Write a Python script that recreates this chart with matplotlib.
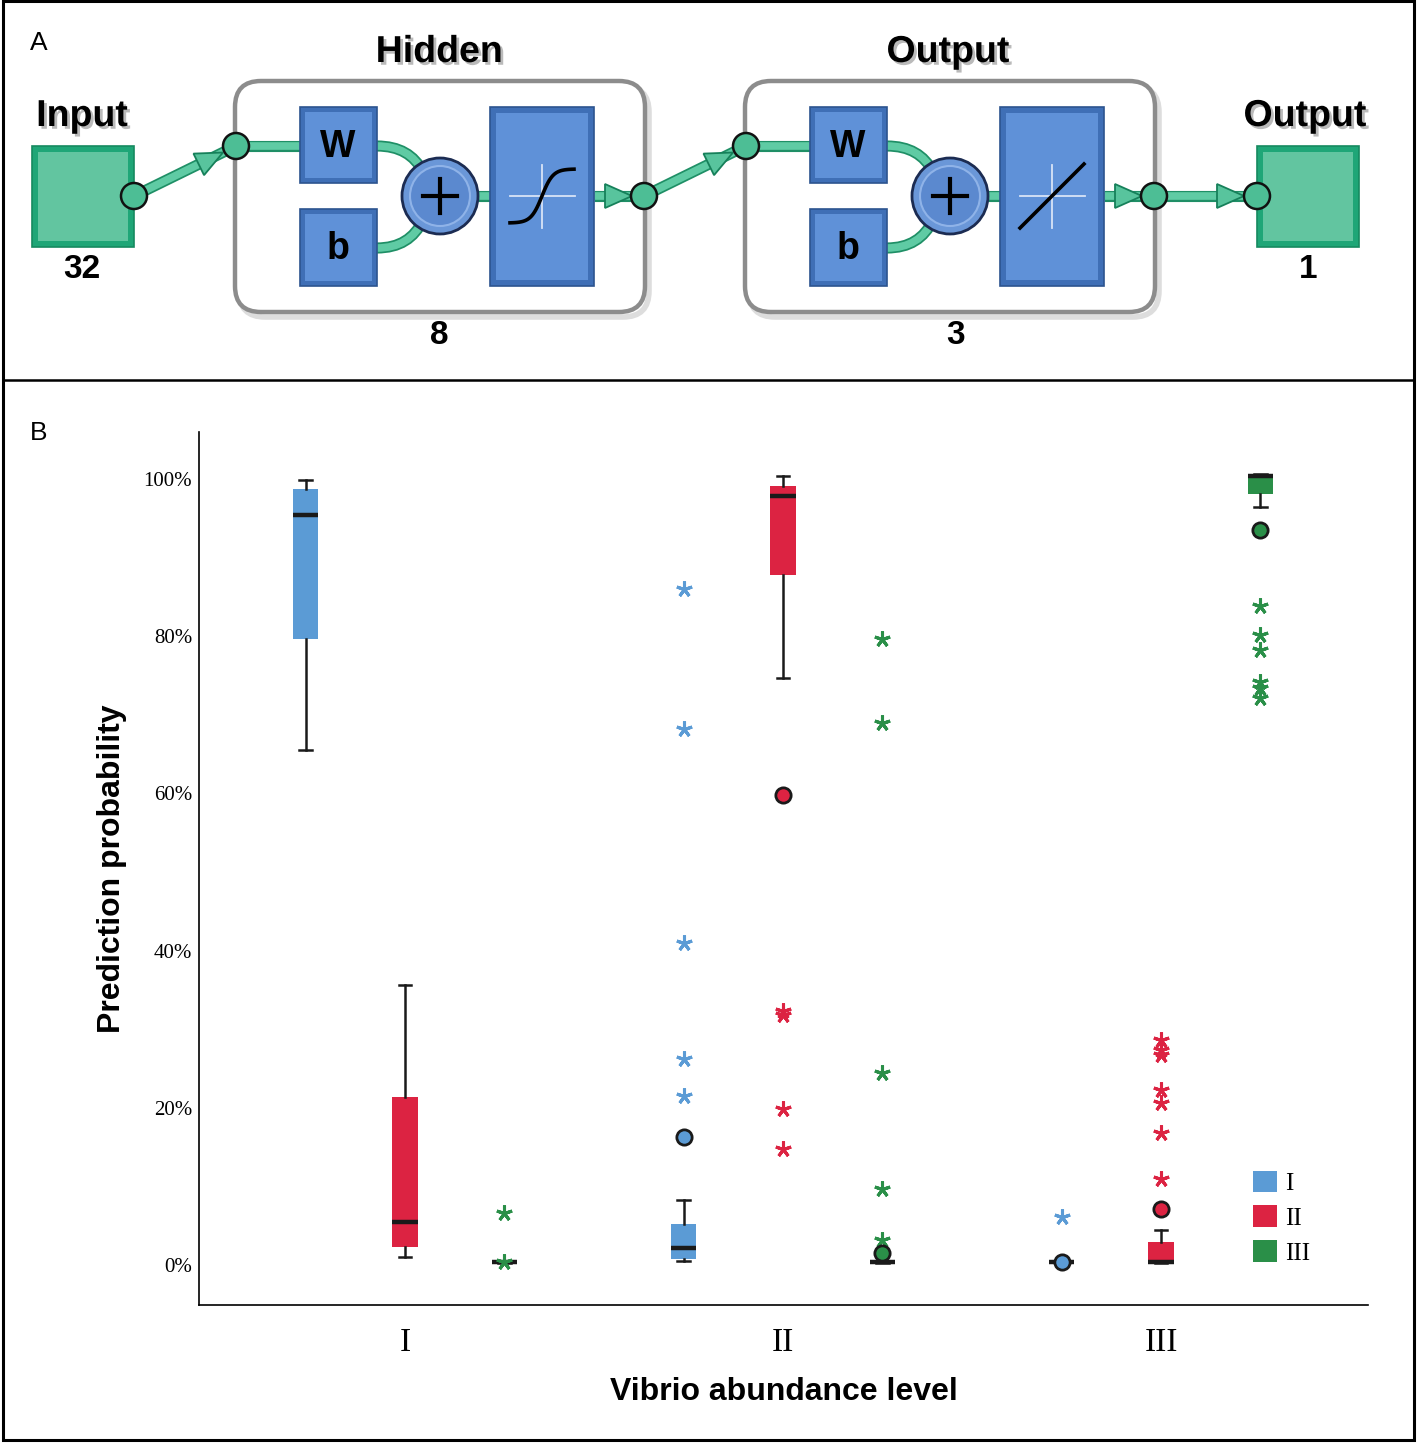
import numpy as np
import matplotlib.pyplot as plt
from matplotlib.patches import Rectangle, Circle, FancyBboxPatch, Polygon, PathPatch, Patch
from matplotlib.path import Path
import matplotlib.patheffects as pe

plt.rcParams['font.family'] = ['Liberation Serif', 'DejaVu Serif']

# ---------------- data (prediction probability, %) ----------------
levels = ['I', 'II', 'III']          # actual Vibrio abundance level
classes = ['I', 'II', 'III']         # predicted class
colors = ['#5b9bd5', '#dc2342', '#2a8f48']

# rows = predicted class I, II, III ; columns = abundance level I, II, III
q1 = np.array([[79.6, 0.8, 0.3], [2.3, 87.8, 0.3], [0.3, 0.3, 98.1]])
med = np.array([[95.4, 2.2, 0.4], [5.5, 97.8, 0.4], [0.4, 0.4, 100.4]])
q3 = np.array([[98.7, 5.2, 0.5], [21.4, 99.1, 2.9], [0.5, 0.5, 100.6]])
whislo = np.array([[65.5, 0.5, 0.3], [1.0, 74.7, 0.3], [0.3, 0.3, 96.4]])
whishi = np.array([[99.9, 8.3, 0.5], [35.6, 100.4, 4.5], [0.5, 0.5, 100.6]])

# outliers (circles) and extremes (stars), per level
circles_I = [[], [16.3], [0.4]]
circles_II = [[], [59.8], [7.1]]
circles_III = [[], [1.5], [93.5]]
stars_I = [[], [86.0, 68.2, 41.0, 26.2, 21.5], [6.1]]
stars_II = [[], [32.3, 31.8, 19.8, 14.8], [28.6, 27.4, 26.7, 22.3, 20.6, 16.8, 10.9]]
stars_III = [[6.6, 0.4], [79.6, 69.0, 24.4, 9.7, 3.2], [83.8, 80.2, 78.2, 74.2, 73.4, 72.1]]

yticks = [0, 20, 40, 60, 80, 100]

# ---------------- figure ----------------
fig = plt.figure(figsize=(14.17, 14.44), dpi=100)
bg = fig.add_axes([0, 0, 1, 1])
bg.set_xlim(0, 1417)
bg.set_ylim(1444, 0)
bg.axis('off')

# frame of the two panels
bg.add_patch(Rectangle((3, 1), 1411, 1439, fc='none', ec='black', lw=2.2, zorder=0))
bg.plot([3, 1414], [380, 380], color='black', lw=1.8, zorder=0)
bg.text(30, 43, 'A', fontsize=19, family='Liberation Sans', va='center')
bg.text(30, 433, 'B', fontsize=19, family='Liberation Sans', va='center')

# ---------------- panel A : network diagram ----------------
GREEN = '#5fcba4'
GREEN_DK = '#1f8f66'
BLUE_OUT = '#3f6fb6'
BLUE_IN = '#5f91d8'


def connector(xs, ys):
    bg.plot(xs, ys, color=GREEN, lw=5.5, solid_capstyle='butt', zorder=2,
            path_effects=[pe.Stroke(linewidth=8, foreground=GREEN_DK), pe.Normal()])


def curve(p0, p1, p2):
    pp = PathPatch(Path([p0, p1, p2], [Path.MOVETO, Path.CURVE3, Path.CURVE3]),
                   fc='none', ec=GREEN, lw=5.5, zorder=2,
                   path_effects=[pe.Stroke(linewidth=8, foreground=GREEN_DK), pe.Normal()])
    bg.add_patch(pp)


def arrow_head(tip, direction, L=27, hw=12):
    d = np.array(direction, float)
    d /= np.hypot(*d)
    n = np.array([-d[1], d[0]])
    tip = np.array(tip, float)
    base = tip - d * L
    bg.add_patch(Polygon([tip, base + n * hw, base - n * hw], closed=True,
                         fc='#58c49d', ec='#16805a', lw=1.3, zorder=4))


def node(x, y):
    bg.add_patch(Circle((x, y), 13, fc='#4dbe95', ec='#111111', lw=1.8, zorder=6))


def bevel(x0, y0, x1, y1, outer, inner, edge, inset=5, z=3):
    bg.add_patch(Rectangle((x0, y0), x1 - x0, y1 - y0, fc=outer, ec=edge, lw=1.2, zorder=z))
    bg.add_patch(Rectangle((x0 + inset, y0 + inset), x1 - x0 - 2 * inset, y1 - y0 - 2 * inset,
                           fc=inner, ec='none', zorder=z))


shadow = [pe.SimplePatchShadow(offset=(2, -2), shadow_rgbFace='0.55', alpha=0.6), pe.Normal()]


def title(x, y, s, size=27):
    bg.text(x, y, s, fontsize=size, fontweight='bold', family='Liberation Sans',
            ha='center', va='center', path_effects=shadow, zorder=7)


def layer(dx, kind):
    bg.add_patch(FancyBboxPatch((239 + dx, 86), 410, 231, boxstyle='round,pad=0,rounding_size=26',
                                fc='none', ec='#dddddd', lw=4, zorder=1))
    bg.add_patch(FancyBboxPatch((235 + dx, 81), 410, 231, boxstyle='round,pad=0,rounding_size=26',
                                fc='white', ec='#8c8c8c', lw=3.2, zorder=1.5))
    connector([236 + dx, 300 + dx], [146, 146])
    curve((377 + dx, 146), (410 + dx, 146), (423 + dx, 172))
    curve((377 + dx, 248), (410 + dx, 248), (423 + dx, 220))
    connector([478 + dx, 490 + dx], [196, 196])
    bevel(300 + dx, 107, 377 + dx, 183, BLUE_OUT, BLUE_IN, '#2c548f')
    bevel(300 + dx, 209, 377 + dx, 286, BLUE_OUT, BLUE_IN, '#2c548f')
    bg.text(338 + dx, 147, 'W', fontsize=27, fontweight='bold', family='Liberation Sans',
            ha='center', va='center', zorder=5)
    bg.text(338 + dx, 249, 'b', fontsize=27, fontweight='bold', family='Liberation Sans',
            ha='center', va='center', zorder=5)
    # summation node
    bg.add_patch(Circle((440 + dx, 196), 38, fc='#6a97d8', ec='#1c2c52', lw=2, zorder=4))
    bg.add_patch(Circle((440 + dx, 196), 30, fc='#5b89cf', ec='#8fb3e8', lw=1.5, zorder=4))
    bg.plot([423 + dx, 457 + dx], [196, 196], color='black', lw=3, zorder=5)
    bg.plot([440 + dx, 440 + dx], [179, 213], color='black', lw=3, zorder=5)
    # transfer function
    bevel(490 + dx, 107, 594 + dx, 286, BLUE_OUT, BLUE_IN, '#2c548f', inset=6)
    cx = 542 + dx
    bg.plot([cx - 32, cx + 33], [196, 196], color='#d8e4f6', lw=1.3, zorder=5)
    bg.plot([cx, cx], [165, 228], color='#d8e4f6', lw=1.3, zorder=5)
    if kind == 'tansig':
        t = np.linspace(-32, 32, 60)
        bg.plot(cx + t, 196 - 27 * np.tanh(t / 11), color='black', lw=2.6, zorder=6)
    else:
        bg.plot([cx - 32, cx + 32], [228, 164], color='black', lw=2.6, zorder=6)
    connector([594 + dx, 644 + dx], [196, 196])
    arrow_head((632 + dx, 196), (1, 0))
    node(236 + dx, 146)
    node(644 + dx, 196)


# input
bevel(32, 146, 134, 247, '#1fa677', '#62c5a0', '#168a60', inset=6)
connector([134, 236], [196, 146])
arrow_head((223, 152.5), (102, -50))
node(134, 196)

layer(0, 'tansig')
connector([644, 746], [196, 146])
arrow_head((733, 152.5), (102, -50))
layer(510, 'purelin')

# output
connector([1155, 1257], [196, 196])
arrow_head((1244, 196), (1, 0))
bevel(1257, 146, 1359, 247, '#1fa677', '#62c5a0', '#168a60', inset=6)
node(1257, 196)

title(82, 116, 'Input')
title(439, 52, 'Hidden')
title(948, 52, 'Output')
title(1305, 116, 'Output')
for x, y, s in [(82, 270, '32'), (439, 336, '8'), (956, 336, '3'), (1308, 270, '1')]:
    bg.text(x, y, s, fontsize=24, fontweight='bold', family='Liberation Sans',
            ha='center', va='center', zorder=7)

# ---------------- panel B : box plots ----------------
ax = fig.add_axes([199 / 1417, 139 / 1444, 1169 / 1417, 873 / 1444])
ax.patch.set_alpha(0)

offset = 0.263
circles = [circles_I, circles_II, circles_III]
stars = [stars_I, stars_II, stars_III]
for k in range(3):
    c = colors[k]
    pos = [j + 1 + (k - 1) * offset for j in range(3)]
    stats = [dict(med=med[k, j], q1=q1[k, j], q3=q3[k, j], whislo=whislo[k, j],
                  whishi=whishi[k, j], fliers=[]) for j in range(3)]
    ax.bxp(stats, positions=pos, widths=0.068, capwidths=0.034, patch_artist=True,
           showfliers=False, manage_ticks=False,
           boxprops=dict(facecolor=c, edgecolor='none', lw=0),
           medianprops=dict(color='#1a1a1a', lw=3.2, solid_capstyle='butt'),
           whiskerprops=dict(color='#1a1a1a', lw=1.8),
           capprops=dict(color='#1a1a1a', lw=1.8))
    for j in range(3):
        sv = stars[k][j]
        ax.plot([pos[j]] * len(sv), sv, ls='none', marker=(5, 2, 0), ms=11.5, mew=2.2,
                color=c, zorder=4)
        cv = circles[k][j]
        ax.plot([pos[j]] * len(cv), cv, ls='none', marker='o', ms=11, mfc=c,
                mec='#1a1a1a', mew=2, zorder=5)

ax.set_xlim(1 - 206 / 378, 3 + 207 / 378)
ax.set_ylim(-5.1, 106.0)
ax.set_xticks([1, 2, 3])
ax.set_xticklabels(levels, fontsize=24)
ax.set_yticks(yticks)
ax.set_yticklabels([f'{v}%' for v in yticks], fontsize=15)
ax.tick_params(axis='x', length=0, pad=16)
ax.tick_params(axis='y', length=0, pad=5)
for s in ['top', 'right']:
    ax.spines[s].set_visible(False)
for s in ['left', 'bottom']:
    ax.spines[s].set_linewidth(1.2)

ax.set_xlabel('Vibrio abundance level', fontsize=23, fontweight='bold', family='Liberation Sans')
ax.set_ylabel('Prediction probability', fontsize=23, fontweight='bold', family='Liberation Sans')
ax.xaxis.set_label_coords(0.5, -0.083)
ax.yaxis.set_label_coords(-0.062, 0.5)

handles = [Patch(fc=colors[k], ec='none', label=classes[k]) for k in range(3)]
ax.legend(handles=handles, loc='upper left', bbox_to_anchor=(0.9016, 0.154), frameon=False,
          fontsize=18, handlelength=0.95, handleheight=0.95, handletextpad=0.35,
          labelspacing=0.42, borderpad=0, borderaxespad=0)

fig.savefig('out.png', dpi=100)
